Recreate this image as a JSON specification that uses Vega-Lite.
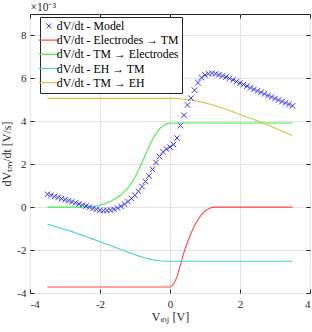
{
  "$schema": "https://vega.github.io/schema/vega-lite/v6.json",
  "width": 280,
  "height": 279,
  "autosize": {"type": "none"},
  "padding": {"left": 30, "top": 14, "right": 2, "bottom": 39},
  "config": {"view": {"stroke": "#262626", "strokeWidth": 1}, "font": "Liberation Serif"},
  "data": {"values": [
    {"x": -3.5, "m": 0.6, "a": -3.72, "b": 0, "c": -0.79, "d": 5.07},
    {"x": -3.4, "m": 0.55, "a": -3.72, "b": 0, "c": -0.84, "d": 5.07},
    {"x": -3.3, "m": 0.5, "a": -3.72, "b": 0, "c": -0.89, "d": 5.07},
    {"x": -3.2, "m": 0.45, "a": -3.72, "b": 0, "c": -0.94, "d": 5.07},
    {"x": -3.1, "m": 0.4, "a": -3.72, "b": 0, "c": -0.99, "d": 5.07},
    {"x": -3.0, "m": 0.35, "a": -3.72, "b": 0, "c": -1.04, "d": 5.07},
    {"x": -2.9, "m": 0.3, "a": -3.72, "b": 0, "c": -1.09, "d": 5.07},
    {"x": -2.8, "m": 0.25, "a": -3.72, "b": 0, "c": -1.14, "d": 5.07},
    {"x": -2.7, "m": 0.2, "a": -3.72, "b": 0, "c": -1.2, "d": 5.07},
    {"x": -2.6, "m": 0.15, "a": -3.72, "b": 0, "c": -1.25, "d": 5.07},
    {"x": -2.5, "m": 0.1, "a": -3.72, "b": 0, "c": -1.31, "d": 5.07},
    {"x": -2.4, "m": 0.05, "a": -3.72, "b": 0, "c": -1.37, "d": 5.07},
    {"x": -2.3, "m": 0.0, "a": -3.72, "b": 0, "c": -1.43, "d": 5.07},
    {"x": -2.2, "m": -0.06, "a": -3.72, "b": 0.02, "c": -1.49, "d": 5.07},
    {"x": -2.1, "m": -0.1, "a": -3.72, "b": 0.05, "c": -1.55, "d": 5.07},
    {"x": -2.0, "m": -0.14, "a": -3.72, "b": 0.09, "c": -1.61, "d": 5.07},
    {"x": -1.9, "m": -0.16, "a": -3.72, "b": 0.14, "c": -1.67, "d": 5.07},
    {"x": -1.8, "m": -0.16, "a": -3.72, "b": 0.2, "c": -1.73, "d": 5.07},
    {"x": -1.7, "m": -0.14, "a": -3.72, "b": 0.27, "c": -1.79, "d": 5.07},
    {"x": -1.6, "m": -0.1, "a": -3.72, "b": 0.36, "c": -1.85, "d": 5.07},
    {"x": -1.5, "m": -0.04, "a": -3.72, "b": 0.46, "c": -1.91, "d": 5.07},
    {"x": -1.4, "m": 0.04, "a": -3.72, "b": 0.58, "c": -1.97, "d": 5.07},
    {"x": -1.3, "m": 0.14, "a": -3.72, "b": 0.72, "c": -2.03, "d": 5.07},
    {"x": -1.2, "m": 0.26, "a": -3.72, "b": 0.9, "c": -2.1, "d": 5.07},
    {"x": -1.1, "m": 0.4, "a": -3.72, "b": 1.12, "c": -2.16, "d": 5.07},
    {"x": -1.0, "m": 0.55, "a": -3.72, "b": 1.4, "c": -2.22, "d": 5.07},
    {"x": -0.9, "m": 0.74, "a": -3.72, "b": 1.72, "c": -2.27, "d": 5.07},
    {"x": -0.8, "m": 0.96, "a": -3.72, "b": 2.08, "c": -2.32, "d": 5.07},
    {"x": -0.7, "m": 1.2, "a": -3.72, "b": 2.45, "c": -2.37, "d": 5.07},
    {"x": -0.6, "m": 1.46, "a": -3.72, "b": 2.82, "c": -2.41, "d": 5.07},
    {"x": -0.5, "m": 1.76, "a": -3.72, "b": 3.15, "c": -2.45, "d": 5.07},
    {"x": -0.4, "m": 2.08, "a": -3.72, "b": 3.43, "c": -2.48, "d": 5.07},
    {"x": -0.3, "m": 2.36, "a": -3.72, "b": 3.65, "c": -2.5, "d": 5.07},
    {"x": -0.2, "m": 2.58, "a": -3.72, "b": 3.8, "c": -2.51, "d": 5.07},
    {"x": -0.1, "m": 2.71, "a": -3.72, "b": 3.88, "c": -2.52, "d": 5.07},
    {"x": 0.0, "m": 2.8, "a": -3.72, "b": 3.92, "c": -2.52, "d": 5.07},
    {"x": 0.1, "m": 2.92, "a": -3.6, "b": 3.92, "c": -2.52, "d": 5.07},
    {"x": 0.2, "m": 3.22, "a": -3.25, "b": 3.92, "c": -2.52, "d": 5.06},
    {"x": 0.3, "m": 3.8, "a": -2.68, "b": 3.92, "c": -2.52, "d": 5.05},
    {"x": 0.4, "m": 4.28, "a": -2.1, "b": 3.92, "c": -2.52, "d": 5.03},
    {"x": 0.5, "m": 4.76, "a": -1.62, "b": 3.92, "c": -2.52, "d": 5.01},
    {"x": 0.6, "m": 5.08, "a": -1.22, "b": 3.92, "c": -2.52, "d": 4.99},
    {"x": 0.7, "m": 5.45, "a": -0.87, "b": 3.92, "c": -2.52, "d": 4.96},
    {"x": 0.8, "m": 5.8, "a": -0.58, "b": 3.92, "c": -2.52, "d": 4.93},
    {"x": 0.9, "m": 6.03, "a": -0.35, "b": 3.92, "c": -2.52, "d": 4.9},
    {"x": 1.0, "m": 6.16, "a": -0.18, "b": 3.92, "c": -2.52, "d": 4.86},
    {"x": 1.1, "m": 6.22, "a": -0.07, "b": 3.92, "c": -2.52, "d": 4.82},
    {"x": 1.2, "m": 6.23, "a": -0.01, "b": 3.92, "c": -2.52, "d": 4.77},
    {"x": 1.3, "m": 6.21, "a": 0, "b": 3.92, "c": -2.52, "d": 4.72},
    {"x": 1.4, "m": 6.17, "a": 0, "b": 3.92, "c": -2.52, "d": 4.67},
    {"x": 1.5, "m": 6.12, "a": 0, "b": 3.92, "c": -2.52, "d": 4.62},
    {"x": 1.6, "m": 6.06, "a": 0, "b": 3.92, "c": -2.52, "d": 4.56},
    {"x": 1.7, "m": 6.0, "a": 0, "b": 3.92, "c": -2.52, "d": 4.5},
    {"x": 1.8, "m": 5.93, "a": 0, "b": 3.92, "c": -2.52, "d": 4.44},
    {"x": 1.9, "m": 5.85, "a": 0, "b": 3.92, "c": -2.52, "d": 4.38},
    {"x": 2.0, "m": 5.78, "a": 0, "b": 3.92, "c": -2.52, "d": 4.32},
    {"x": 2.1, "m": 5.71, "a": 0, "b": 3.92, "c": -2.52, "d": 4.26},
    {"x": 2.2, "m": 5.64, "a": 0, "b": 3.92, "c": -2.52, "d": 4.2},
    {"x": 2.3, "m": 5.56, "a": 0, "b": 3.92, "c": -2.52, "d": 4.14},
    {"x": 2.4, "m": 5.49, "a": 0, "b": 3.92, "c": -2.52, "d": 4.08},
    {"x": 2.5, "m": 5.42, "a": 0, "b": 3.92, "c": -2.52, "d": 4.02},
    {"x": 2.6, "m": 5.35, "a": 0, "b": 3.92, "c": -2.52, "d": 3.96},
    {"x": 2.7, "m": 5.28, "a": 0, "b": 3.92, "c": -2.52, "d": 3.9},
    {"x": 2.8, "m": 5.2, "a": 0, "b": 3.92, "c": -2.52, "d": 3.83},
    {"x": 2.9, "m": 5.13, "a": 0, "b": 3.92, "c": -2.52, "d": 3.76},
    {"x": 3.0, "m": 5.06, "a": 0, "b": 3.92, "c": -2.52, "d": 3.69},
    {"x": 3.1, "m": 4.99, "a": 0, "b": 3.92, "c": -2.52, "d": 3.62},
    {"x": 3.2, "m": 4.92, "a": 0, "b": 3.92, "c": -2.52, "d": 3.55},
    {"x": 3.3, "m": 4.86, "a": 0, "b": 3.92, "c": -2.52, "d": 3.48},
    {"x": 3.4, "m": 4.79, "a": 0, "b": 3.92, "c": -2.52, "d": 3.41},
    {"x": 3.5, "m": 4.72, "a": 0, "b": 3.92, "c": -2.52, "d": 3.34}
  ]},
  "transform": [{"fold": ["m", "a", "b", "c", "d"], "as": ["k", "v"]}],
  "encoding": {
    "color": {
      "field": "k", "type": "nominal",
      "scale": {"domain": ["m", "a", "b", "c", "d"], "range": ["#3636f2", "#ff4444", "#44ee44", "#44d2d2", "#d2c63c"]},
      "legend": {
        "orient": "none", "legendX": 10, "legendY": 3, "title": null,
        "fillColor": "white", "strokeColor": "#262626", "padding": 3,
        "labelFont": "Liberation Serif", "labelFontSize": 11.8, "labelColor": "black",
        "symbolSize": 400, "symbolType": "stroke", "symbolStrokeWidth": 1.2, "rowPadding": 1.2, "labelOffset": 2,
        "labelExpr": "{'m': 'dV/dt - Model', 'a': 'dV/dt - Electrodes → TM', 'b': 'dV/dt - TM → Electrodes', 'c': 'dV/dt - EH → TM', 'd': 'dV/dt - TM → EH'}[datum.label]",
        "encode": {"symbols": {"update": {
          "shape": {"signal": "datum.value === 'm' ? 'M-1,-1L1,1M-1,1L1,-1' : 'stroke'"},
          "size": {"signal": "datum.value === 'm' ? 25 : 400"},
          "fill": {"value": "transparent"},
          "strokeWidth": {"signal": "datum.value === 'm' ? 1 : 1.2"}
        }}}
      }
    }
  },
  "layer": [
    {
      "transform": [{"filter": "datum.k !== 'm'"}],
      "mark": {"type": "line", "strokeWidth": 1.1},
      "encoding": {
        "x": {"field": "x", "type": "quantitative", "scale": {"domain": [-4, 4], "nice": false},
          "axis": {"orient": "bottom", "values": [-4, -2, 0, 2, 4], "title": "Vᵢₙⱼ [V]", "grid": true, "gridColor": "#e3e3e3",
            "domain": false, "tickSize": -4, "tickColor": "#262626", "labelPadding": 9, "labelFontSize": 11, "labelColor": "#262626",
            "labelFont": "Liberation Serif", "titleFont": "Liberation Serif", "titleFontSize": 12, "titleFontWeight": "normal", "titleColor": "#262626", "titlePadding": 2,
            "labelExpr": "replace(datum.label, '−', '-')"}},
        "y": {"field": "v", "type": "quantitative", "scale": {"domain": [-4, 9], "nice": false},
          "axis": {"orient": "left", "values": [-4, -2, 0, 2, 4, 6, 8], "title": "dVₜₘ/dt [V/s]", "grid": true, "gridColor": "#e3e3e3",
            "domain": false, "tickSize": -4, "tickColor": "#262626", "labelPadding": 8, "labelFontSize": 11, "labelColor": "#262626",
            "labelFont": "Liberation Serif", "titleFont": "Liberation Serif", "titleFontSize": 12, "titleFontWeight": "normal", "titleColor": "#262626", "titlePadding": 3,
            "labelExpr": "replace(datum.label, '−', '-')"}}
      }
    },
    {
      "transform": [{"filter": "datum.k === 'm'"}],
      "mark": {"type": "point", "shape": "M-1,-1L1,1M-1,1L1,-1", "size": 30, "strokeWidth": 1, "filled": false, "opacity": 1},
      "encoding": {
        "x": {"field": "x", "type": "quantitative", "scale": {"domain": [-4, 4], "nice": false},
          "axis": {"orient": "top", "values": [-4, -2, 0, 2, 4], "title": "×10⁻³", "titleX": 0, "titleY": -2, "titleAlign": "left", "titleBaseline": "bottom",
            "titleFont": "Liberation Serif", "titleFontSize": 11.5, "titleFontWeight": "normal", "titleColor": "#262626",
            "labels": false, "grid": false, "domain": false, "tickSize": -4, "tickColor": "#262626"}},
        "y": {"field": "v", "type": "quantitative", "scale": {"domain": [-4, 9], "nice": false},
          "axis": {"orient": "right", "values": [-4, -2, 0, 2, 4, 6, 8], "title": null, "labels": false, "grid": false, "domain": false, "tickSize": -4, "tickColor": "#262626"}}
      }
    }
  ],
  "resolve": {"axis": {"x": "independent", "y": "independent"}}
}
